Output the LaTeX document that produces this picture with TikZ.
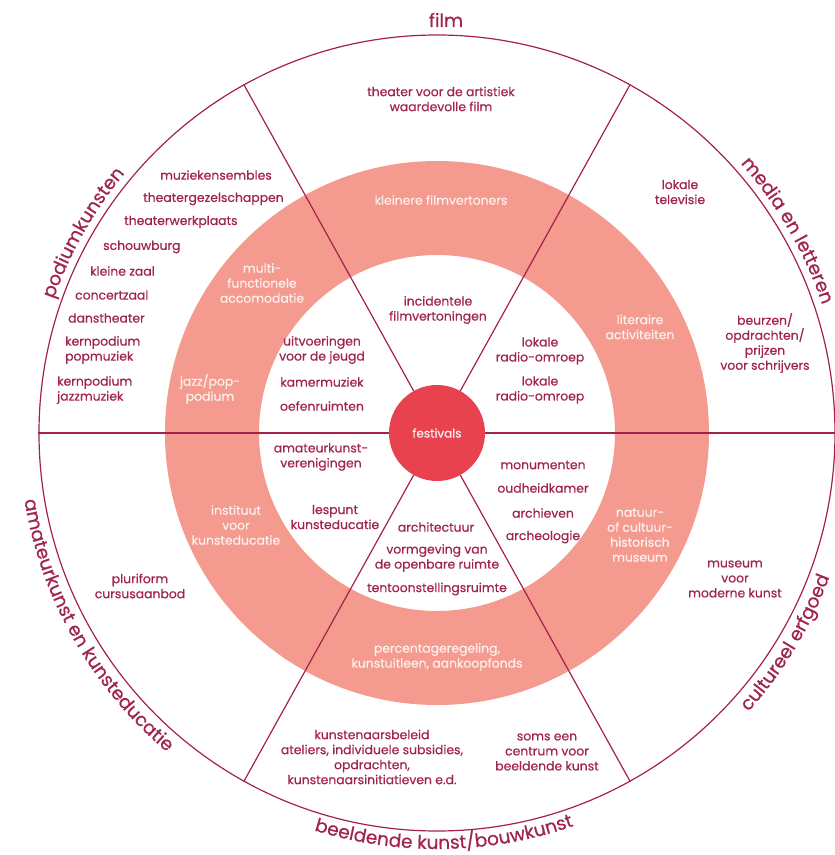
\documentclass[tikz,border=0pt]{standalone}
\usepackage{fontspec}
\setmainfont{Poppins}[FakeBold=0.6]
\usetikzlibrary{decorations.text}
\definecolor{ln}{HTML}{A3214B}
\definecolor{txt}{HTML}{A02450}
\definecolor{ringc}{HTML}{F49A8E}
\definecolor{festc}{HTML}{E8424F}
\definecolor{wt}{HTML}{FDF0EC}
\begin{document}
\begin{tikzpicture}[x=1pt,y=1pt,
  lbl/.style={font=\fontsize{12.4}{15}\selectfont, text=txt, align=center, inner sep=0pt},
  wlbl/.style={lbl, text=wt},
  llbl/.style={lbl, align=left, anchor=west},
  divider/.style={draw=ln, line width=1.2pt},
  curved/.style={decorate, decoration={text along path, text align=center, text color=txt,
     text={|\fontsize{18.5}{18.5}\selectfont|#1}}}
]
\useasboundingbox (-437,-422) rectangle (398,433);
% ring
\fill[ringc, even odd rule] (0,0) circle[radius=272pt] (0,0) circle[radius=178pt];
% outer circle
\node[circle, draw=ln, line width=1.2pt, minimum size=796pt, inner sep=0pt] (outer) at (0,0) {};
% centre
\node[circle, fill=festc, minimum size=96pt, inner sep=0pt, text=wt, font=\fontsize{12}{15}\selectfont] (fest) at (0,0) {festivals};
% dividers
\foreach \a in {0,61,119,180,241,299}
  \draw[divider] (fest.\a) -- (outer.\a);
% outer labels
\node[anchor=base, font=\fontsize{18.5}{18.5}\selectfont, text=txt, inner sep=0pt] (film) at (9,406) {film};
\path[curved={podiumkunsten}] (175:406pt) arc[start angle=175, end angle=126, radius=406pt];
\path[curved={media en letteren}] (55:406pt) arc[start angle=55, end angle=5, radius=406pt];
\path[curved={amateurkunst en kunsteducatie}] (178:418pt) arc[start angle=178, end angle=241, radius=418pt];
\path[curved={beeldende kunst/bouwkunst}] (240:416pt) arc[start angle=240, end angle=302, radius=416pt];
\path[curved={cultureel erfgoed}] (-57:418pt) arc[start angle=-57, end angle=-5, radius=418pt];
% film sector
\node[lbl] (t1) at (4,334) {theater voor de artistiek\\waardevolle film};
\node[wlbl] (t2) at (4,233) {kleinere filmvertoners};
\node[lbl] (t3) at (1,123) {incidentele\\filmvertoningen};
% media sector
\node[lbl] (m1) at (243,241) {lokale\\televisie};
\node[wlbl] (m2) at (203,106) {literaire\\activiteiten};
\node[lbl] (m3) at (328,90) {beurzen/\\opdrachten/\\prijzen\\voor schrijvers};
\node[lbl] (m4) at (103,82) {lokale\\radio-omroep};
\node[lbl] (m5) at (103,43) {lokale\\radio-omroep};
% podium sector
\node[llbl] (p1) at (-277,258) {muziekensembles};
\node[llbl] (p2) at (-294,234) {theatergezelschappen};
\node[llbl] (p3) at (-313,211) {theaterwerkplaats};
\node[llbl] (p4) at (-334,186) {schouwburg};
\node[llbl] (p5) at (-347,162) {kleine zaal};
\node[llbl] (p6) at (-362,138) {concertzaal};
\node[llbl] (p7) at (-369,115) {danstheater};
\node[llbl] (p8) at (-372,83) {kernpodium\\popmuziek};
\node[llbl] (p9) at (-380,43) {kernpodium\\jazzmuziek};
\node[wlbl] (p10) at (-175,150) {multi-\\functionele\\accomodatie};
\node[wlbl] (p11) at (-227,44) {jazz/pop-\\podium};
\node[lbl] (p12) at (-115,83) {uitvoeringen\\voor de jeugd};
\node[lbl] (p13) at (-115,51) {kamermuziek};
\node[lbl] (p14) at (-115,27) {oefenruimten};
% amateur sector
\node[lbl] (a1) at (-116,-24) {amateurkunst-\\verenigingen};
\node[wlbl] (a2) at (-201,-92) {instituut\\voor\\kunsteducatie};
\node[lbl] (a3) at (-102,-84) {lespunt\\kunsteducatie};
\node[lbl] (a4) at (-297,-153) {pluriform\\cursusaanbod};
% beeldende sector
\node[lbl] (b1) at (-1,-94) {architectuur};
\node[lbl] (b2) at (0,-125) {vormgeving van\\de openbare ruimte};
\node[lbl] (b3) at (0,-156) {tentoonstellingsruimte};
\node[wlbl] (b4) at (0,-224) {percentageregeling,\\kunstuitleen, aankoopfonds};
\node[lbl] (b5) at (-65,-324) {kunstenaarsbeleid\\ateliers, individuele subsidies,\\opdrachten,\\kunstenaarsinitiatieven e.d.};
\node[lbl] (b6) at (110,-319) {soms een\\centrum voor\\beeldende kunst};
% erfgoed sector
\node[lbl] (e1) at (106,-32) {monumenten};
\node[lbl] (e2) at (106,-55) {oudheidkamer};
\node[lbl] (e3) at (106,-80) {archieven};
\node[lbl] (e4) at (106,-104) {archeologie};
\node[wlbl] (e5) at (203,-102) {natuur-\\of cultuur-\\historisch\\museum};
\node[lbl] (e6) at (298,-146) {museum\\voor\\moderne kunst};
\end{tikzpicture}
\end{document}
